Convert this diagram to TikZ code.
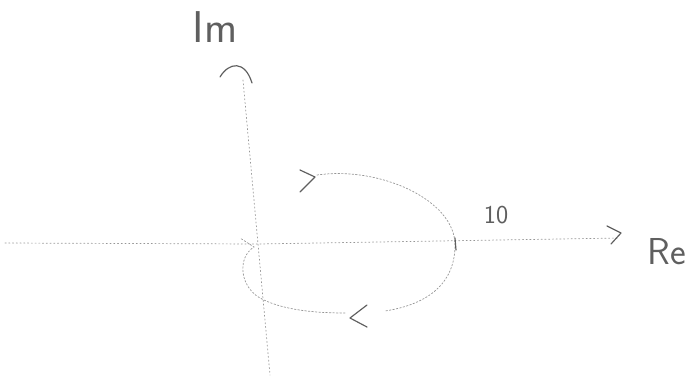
\documentclass[tikz,border=0pt]{standalone}
\usepackage{tikz}
\usetikzlibrary{calc}
\definecolor{pencil}{RGB}{150,150,150}
\definecolor{lead}{RGB}{95,95,95}
\tikzset{
  axis/.style={draw=pencil, line width=0.6pt, dash pattern=on 1pt off 2.2pt, line cap=round},
  contour/.style={draw=pencil, line width=0.6pt, dash pattern=on 1.4pt off 1.6pt, line cap=round},
  chevron/.style={draw=lead, line width=1pt, line cap=round, line join=round},
  hand/.style={text=lead, font=\sffamily, inner sep=0pt},
}

\begin{document}
\begin{tikzpicture}[x=0.03cm, y=-0.03cm]
\useasboundingbox (0,0) rectangle (688,379);

% Achsen
\coordinate (o)   at (258,244);
\coordinate (reL) at (5,243);
\coordinate (reR) at (619,238);
\coordinate (imT) at (243,80);
\coordinate (imB) at (270,375);
\draw[axis] (reL) -- (o) -- (reR);
\draw[axis] (imT) -- (o) -- (imB);

% Pfeilspitzen der Achsen
\draw[chevron] (220,77) .. controls (229,62) and (245,60) .. (252,83);
\draw[chevron] (607,226) -- (621,233) -- (611,244);

% Beschriftung
\node[hand, font=\sffamily\fontsize{38}{38}\selectfont] (im) at (215,27) {Im};
\node[hand, font=\sffamily\fontsize{22}{22}\selectfont] (ten) at (496,215) {10};
\node[hand, font=\sffamily\fontsize{32}{32}\selectfont, anchor=east] (re) at (686,252) {Re};

% Nyquist-Kontur
\draw[contour] (317,175) .. controls (380,166) and (455,200) .. (455,245)
  .. controls (455,282) and (430,304) .. (385,311);
\draw[contour] (345,313) .. controls (315,313) and (285,310) .. (264,300)
  .. controls (240,290) and (236,258) .. (254,247) -- (240,238);
\draw[chevron] (455,238) -- (456,250);

% Richtungspfeile
\draw[chevron] (300,170) -- (315,177) -- (300,192);
\draw[chevron] (367,305) -- (350,318) -- (367,327);

\end{tikzpicture}
\end{document}
